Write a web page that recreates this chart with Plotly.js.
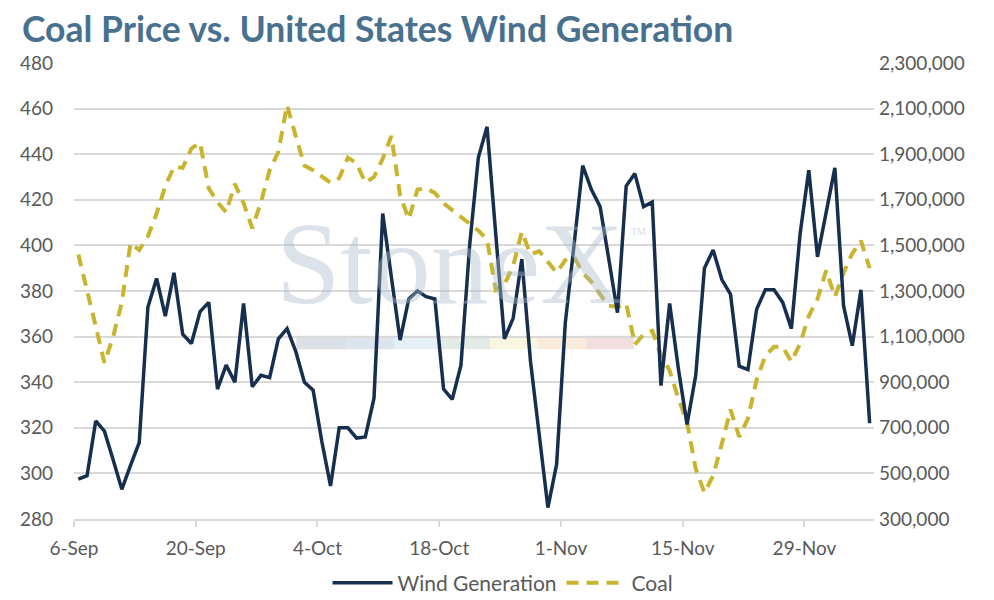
<!DOCTYPE html>
<html>
<head>
<meta charset="utf-8">
<script src="https://cdn.plot.ly/plotly-3.0.1.min.js"></script>
<style>
  html, body { margin: 0; padding: 0; background: #ffffff; }
  #chart { width: 994px; height: 600px; }
</style>
</head>
<body>
<div id="chart"></div>
<script>
// ---- data ----
var startDate = '2022-09-06';
var tickLabels = ['6-Sep', '20-Sep', '4-Oct', '18-Oct', '1-Nov', '15-Nov', '29-Nov'];
var tickDates = ['2022-09-06', '2022-09-20', '2022-10-04', '2022-10-18', '2022-11-01', '2022-11-15', '2022-11-29'];

var windGeneration = [
  475000, 490000, 730000, 685000, 560000, 430000, 535000, 635000, 1230000, 1355000,
  1190000, 1380000, 1110000, 1070000, 1210000, 1250000, 870000, 975000, 900000, 1245000,
  880000, 930000, 920000, 1090000, 1135000, 1035000, 900000, 865000, 640000, 445000,
  700000, 700000, 655000, 660000, 830000, 1640000, 1360000, 1085000, 1265000, 1300000,
  1275000, 1265000, 870000, 825000, 975000, 1500000, 1885000, 2020000, 1550000, 1090000,
  1180000, 1440000, 990000, 680000, 350000, 540000, 1160000, 1500000, 1850000, 1745000,
  1670000, 1440000, 1205000, 1760000, 1815000, 1670000, 1690000, 885000, 1245000, 960000,
  715000, 930000, 1400000, 1480000, 1350000, 1285000, 970000, 955000, 1220000, 1305000,
  1305000, 1250000, 1135000, 1550000, 1830000, 1450000, 1640000, 1840000, 1235000, 1060000,
  1305000, 720000
];

var coal = [
  396, 381, 364.5, 348.5, 360, 375, 401, 398, 404, 414,
  426, 434.5, 434, 442.5, 445, 425, 419, 414.5, 427, 418.5,
  407.5, 419, 433, 441, 461.5, 448, 435, 433, 430, 427.5,
  429.5, 438.5, 436, 427.5, 430, 438, 448, 422, 411.5, 424.5,
  425, 423, 418.5, 415.5, 412.5, 409.5, 406.5, 402.5, 380.5, 383,
  391, 406, 396, 397.5, 393, 388, 393.5, 395, 388, 384,
  378.5, 373.5, 373, 374.5, 356.5, 361, 362.5, 352, 345, 333,
  322.5, 302, 291.5, 299, 313, 328, 316, 324, 341, 351.5,
  355.5, 355.5, 349, 357, 369, 376.5, 389, 377.5, 388, 396.5,
  402, 390
];

// one point per day, drawn at mid-day (Excel "between tick marks" style)
var dates = [];
(function () {
  var d0 = new Date(startDate + 'T12:00:00Z');
  for (var i = 0; i < coal.length; i++) {
    var d = new Date(d0.getTime() + i * 86400000);
    dates.push(d.toISOString().slice(0, 10) + ' 12:00');
  }
})();

var tickFont = { family: 'Lato, "Open Sans", sans-serif', size: 19, color: '#595959' };
var legendFont = { family: 'Lato, "Open Sans", sans-serif', size: 21, color: '#595959' };

var traces = [
  {
    x: dates, y: windGeneration, name: 'Wind Generation', yaxis: 'y2',
    type: 'scatter', mode: 'lines',
    line: { color: '#172f4e', width: 3.5 }
  },
  {
    x: dates, y: coal, name: 'Coal', yaxis: 'y',
    type: 'scatter', mode: 'lines',
    line: { color: '#c8b42e', width: 4, dash: '12px,8px' }
  }
];

var layout = {
  width: 994, height: 600,
  paper_bgcolor: '#ffffff', plot_bgcolor: '#ffffff',
  margin: { l: 74, r: 120, t: 63, b: 81, autoexpand: false },
  title: {
    text: '<b>Coal Price vs. United States Wind Generation</b>',
    font: { family: 'Lato, "Open Sans", sans-serif', size: 35.5, color: '#48708f' },
    x: 22 / 994, xanchor: 'left', xref: 'container',
    y: 1 - 30 / 600, yanchor: 'middle', yref: 'container'
  },
  xaxis: {
    type: 'date',
    range: ['2022-09-06', '2022-12-07'],
    tickvals: tickDates, ticktext: tickLabels,
    showgrid: false, zeroline: false,
    showline: true, linecolor: '#d9d9d9', linewidth: 1.5,
    ticks: 'outside', ticklen: 6, tickcolor: '#d9d9d9', tickwidth: 1.5,
    tickfont: tickFont, ticklabelstandoff: 5
  },
  yaxis: {
    range: [280, 480], dtick: 20, tick0: 280,
    showgrid: true, gridcolor: '#d9d9d9', gridwidth: 1.5,
    zeroline: false, showline: false, ticks: '',
    tickfont: tickFont, ticklabelstandoff: 20
  },
  yaxis2: {
    overlaying: 'y', side: 'right',
    range: [300000, 2300000], dtick: 200000, tick0: 300000,
    tickformat: ',d', showgrid: false, zeroline: false, showline: false, ticks: '',
    tickfont: tickFont, ticklabelstandoff: 4
  },
  showlegend: true,
  legend: {
    orientation: 'h', x: 503 / 994, xref: 'container', xanchor: 'center',
    y: 1 - 583 / 600, yref: 'container', yanchor: 'middle',
    font: legendFont, traceorder: 'normal', itemwidth: 60,
    bgcolor: 'rgba(0,0,0,0)'
  },
  shapes: [
    { type: 'rect', xref: 'paper', yref: 'paper', x0: 0.278, x1: 0.34, y0: 0.372, y1: 0.402, fillcolor: '#ccd3dc', line: { width: 0 }, opacity: 0.7, layer: 'below' },
    { type: 'rect', xref: 'paper', yref: 'paper', x0: 0.34, x1: 0.40, y0: 0.372, y1: 0.402, fillcolor: '#cdd9e6', line: { width: 0 }, opacity: 0.7, layer: 'below' },
    { type: 'rect', xref: 'paper', yref: 'paper', x0: 0.40, x1: 0.46, y0: 0.372, y1: 0.402, fillcolor: '#d9e8f2', line: { width: 0 }, opacity: 0.7, layer: 'below' },
    { type: 'rect', xref: 'paper', yref: 'paper', x0: 0.46, x1: 0.52, y0: 0.372, y1: 0.402, fillcolor: '#d5e3da', line: { width: 0 }, opacity: 0.7, layer: 'below' },
    { type: 'rect', xref: 'paper', yref: 'paper', x0: 0.52, x1: 0.58, y0: 0.372, y1: 0.402, fillcolor: '#f8f4d8', line: { width: 0 }, opacity: 0.8, layer: 'below' },
    { type: 'rect', xref: 'paper', yref: 'paper', x0: 0.58, x1: 0.64, y0: 0.372, y1: 0.402, fillcolor: '#f8e6cf', line: { width: 0 }, opacity: 0.8, layer: 'below' },
    { type: 'rect', xref: 'paper', yref: 'paper', x0: 0.64, x1: 0.70, y0: 0.372, y1: 0.402, fillcolor: '#efd5d7', line: { width: 0 }, opacity: 0.8, layer: 'below' }
  ],
  annotations: [
    {
      text: 'StoneX', xref: 'paper', yref: 'paper', x: 0.47, y: 0.56,
      xanchor: 'center', yanchor: 'middle', showarrow: false,
      font: { family: '"Liberation Serif", "DejaVu Serif", serif', size: 116, color: 'rgba(170,185,203,0.42)' }
    },
    {
      text: 'TM', xref: 'paper', yref: 'paper', x: 0.705, y: 0.63,
      xanchor: 'center', yanchor: 'middle', showarrow: false,
      font: { family: '"Liberation Serif", serif', size: 10, color: 'rgba(170,185,203,0.5)' }
    }
  ]
};

Plotly.newPlot('chart', traces, layout, { displayModeBar: false, responsive: false });
</script>
</body>
</html>
